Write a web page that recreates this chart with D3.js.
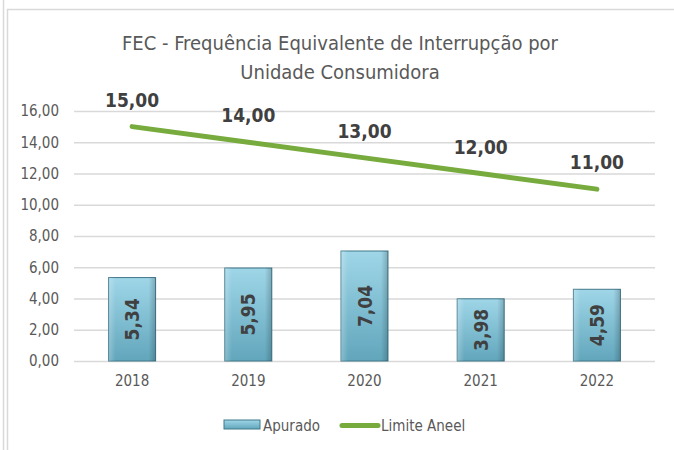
<!DOCTYPE html>
<html>
<head>
<meta charset="utf-8">
<script src="https://cdn.jsdelivr.net/npm/d3@7"></script>
<style>
  body { margin: 0; background: #fff; }
  text { font-family: "DejaVu Sans Condensed", "Open Sans", sans-serif; }
</style>
</head>
<body>
<div id="chart"></div>
<script>
// data
let years = ["2018", "2019", "2020", "2021", "2022"];
let apurado = [5.34, 5.95, 7.04, 3.98, 4.59];
let limite = [15, 14, 13, 12, 11];
let yTicks = [0, 2, 4, 6, 8, 10, 12, 14, 16];
let titleLines = ["FEC - Frequência Equivalente de Interrupção por", "Unidade Consumidora"];
let legendNames = ["Apurado", "Limite Aneel"];

let width = 674, height = 450;
let fmt = v => d3.format(".2f")(v).replace(".", ",");

let svg = d3.select("#chart").append("svg")
  .attr("width", width)
  .attr("height", height);

// outer frame lines
svg.append("line").attr("x1", 3.5).attr("x2", 3.5).attr("y1", 0).attr("y2", height)
  .attr("stroke", "#d9d9d9").attr("stroke-width", 1.5);
svg.append("rect").attr("x", 7.5).attr("y", 9.5).attr("width", 670).attr("height", 450)
  .attr("fill", "none").attr("stroke", "#d9d9d9").attr("stroke-width", 1.5);

let defs = svg.append("defs");
let grad = defs.append("linearGradient").attr("id", "barGrad")
  .attr("x1", 0).attr("x2", 0).attr("y1", 0).attr("y2", 1);
grad.append("stop").attr("offset", "0%").attr("stop-color", "#9fd6e8");
grad.append("stop").attr("offset", "100%").attr("stop-color", "#62a6bc");
let side = defs.append("linearGradient").attr("id", "sideGrad")
  .attr("x1", 0).attr("x2", 1).attr("y1", 0).attr("y2", 0);
side.append("stop").attr("offset", "0%").attr("stop-color", "#ffffff").attr("stop-opacity", 0.25);
side.append("stop").attr("offset", "15%").attr("stop-color", "#ffffff").attr("stop-opacity", 0);
side.append("stop").attr("offset", "85%").attr("stop-color", "#000000").attr("stop-opacity", 0);
side.append("stop").attr("offset", "100%").attr("stop-color", "#000000").attr("stop-opacity", 0.2);

let x = d3.scaleBand().domain(years).range([74, 655]);
let y = d3.scaleLinear().domain([0, 16]).range([361, 111]);

// title
svg.append("g").selectAll("text")
  .data(titleLines)
  .enter()
  .append("text")
  .attr("x", 340)
  .attr("y", (d, i) => 50 + i * 29)
  .attr("text-anchor", "middle")
  .attr("font-size", 20)
  .attr("fill", "#595959")
  .text(d => d);

// gridlines + y labels
let yAxis = svg.append("g")
  .attr("transform", "translate(74,0)")
  .call(d3.axisLeft(y).tickValues(yTicks).tickFormat(fmt).tickSize(-581).tickPadding(15));
yAxis.select(".domain").remove();
yAxis.selectAll(".tick line").attr("stroke", "#d9d9d9").attr("stroke-width", 1.5);
yAxis.selectAll(".tick text")
  .attr("fill", "#595959")
  .attr("font-size", 15)
  .style("font-family", "'DejaVu Sans Condensed', sans-serif");

// x labels
let xAxis = svg.append("g")
  .attr("transform", "translate(0,361)")
  .call(d3.axisBottom(x).tickSize(0).tickPadding(14));
xAxis.select(".domain").remove();
xAxis.selectAll(".tick text")
  .attr("fill", "#595959")
  .attr("font-size", 15)
  .style("font-family", "'DejaVu Sans Condensed', sans-serif");

// bars
let barW = 47;
let bars = svg.append("g").selectAll("g")
  .data(years)
  .enter()
  .append("g")
  .attr("transform", d => "translate(" + (x(d) + x.bandwidth() / 2 - barW / 2) + ",0)");

bars.append("rect")
  .attr("y", (d, i) => y(apurado[i]))
  .attr("width", barW)
  .attr("height", (d, i) => y(0) - y(apurado[i]))
  .attr("fill", "url(#barGrad)")
  .attr("stroke", "#41788a")
  .attr("stroke-width", 1);
bars.append("rect")
  .attr("y", (d, i) => y(apurado[i]))
  .attr("width", barW)
  .attr("height", (d, i) => y(0) - y(apurado[i]))
  .attr("fill", "url(#sideGrad)");
bars.append("text")
  .attr("transform", (d, i) => "translate(" + (barW / 2 + 7) + "," + ((y(apurado[i]) + y(0)) / 2) + ") rotate(-90)")
  .attr("text-anchor", "middle")
  .attr("font-size", 19)
  .attr("font-weight", "bold")
  .attr("fill", "#404040")
  .text((d, i) => fmt(apurado[i]));

// limit line
let line = d3.line()
  .x((d, i) => x(years[i]) + x.bandwidth() / 2)
  .y(d => y(d));
svg.append("path")
  .datum(limite)
  .attr("d", line)
  .attr("fill", "none")
  .attr("stroke", "#77ab3d")
  .attr("stroke-width", 5)
  .attr("stroke-linecap", "round");

svg.append("g").selectAll("text")
  .data(limite)
  .enter()
  .append("text")
  .attr("x", (d, i) => x(years[i]) + x.bandwidth() / 2)
  .attr("y", d => y(d) - 20)
  .attr("text-anchor", "middle")
  .attr("font-size", 19)
  .attr("font-weight", "bold")
  .attr("fill", "#404040")
  .text(d => fmt(d));

// legend
let lg = svg.append("g");
lg.append("rect").attr("x", 224).attr("y", 420).attr("width", 36).attr("height", 9)
  .attr("fill", "url(#barGrad)").attr("stroke", "#41788a");
lg.append("text").attr("x", 263).attr("y", 431).attr("font-size", 15).attr("fill", "#595959")
  .text(legendNames[0]);
lg.append("line").attr("x1", 342).attr("x2", 378).attr("y1", 425.5).attr("y2", 425.5)
  .attr("stroke", "#77ab3d").attr("stroke-width", 5).attr("stroke-linecap", "round");
lg.append("text").attr("x", 381).attr("y", 431).attr("font-size", 15).attr("fill", "#595959")
  .text(legendNames[1]);
</script>
</body>
</html>
